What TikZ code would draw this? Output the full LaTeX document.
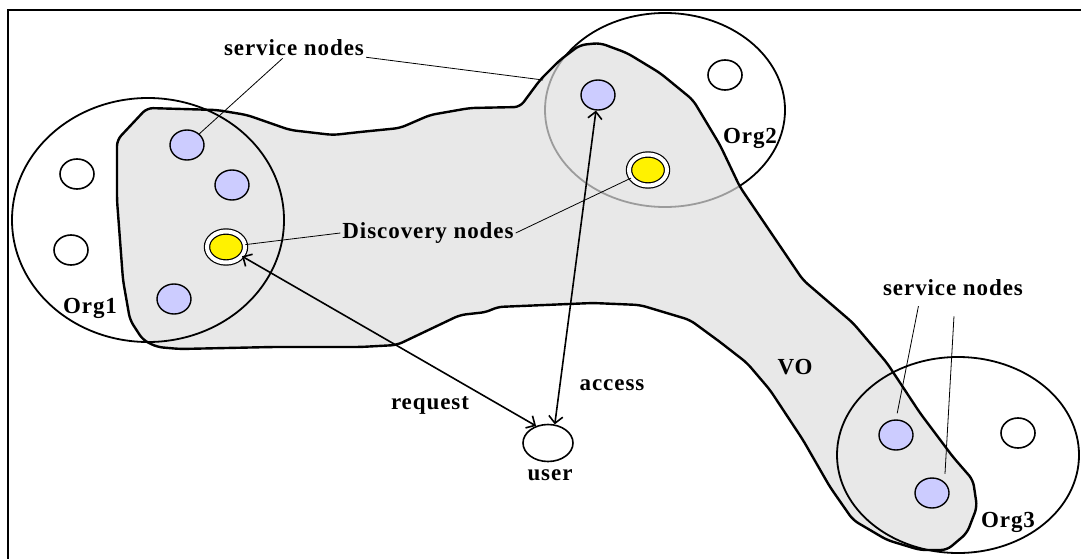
\documentclass[tikz,border=0pt]{standalone}
\usepackage{fontspec}
\setmainfont{Liberation Serif}
\usetikzlibrary{shapes.geometric,arrows.meta}
\definecolor{lavender}{HTML}{CCCCFF}

\tikzset{
  org/.style={draw=black, line width=1.8pt},
  srv/.style={ellipse, draw, line width=1.4pt, fill=lavender, minimum width=34pt, minimum height=30pt, inner sep=0pt},
  idle/.style={ellipse, draw, line width=1.6pt, fill=white, minimum width=34pt, minimum height=30pt, inner sep=0pt},
  disco/.style={ellipse, draw, line width=1.2pt, double=white, double distance=4pt, fill=yellow, minimum width=38pt, minimum height=31pt, inner sep=0pt},
  lbl/.style={font=\bfseries\fontsize{23}{26}\selectfont\addfontfeature{LetterSpace=4}, inner sep=2pt},
  callout/.style={draw, line width=0.8pt},
  arr/.style={line width=1.6pt, {Straight Barb[length=7pt,width=14pt]}-{Straight Barb[length=7pt,width=14pt]}}
}

\begin{document}
\begin{tikzpicture}[x=1pt, y=-1pt]
\useasboundingbox (0,0) rectangle (1081,559);
\draw[line width=2pt] (8,560) -- (8,10) -- (1082,10);

\draw[org] (665,110) ellipse [x radius=120pt, y radius=97pt];
\begin{scope}[fill opacity=.7]
    \draw[line width=2.4pt, fill=black!13, rounded corners=6pt]
      (117,140) -- (147,108) -- (217,110) -- (247,115) -- (290,130) -- (333,135)
      -- (360,132) -- (400,128) -- (430,115) -- (470,108) -- (520,107) -- (540,80)
      -- (560,60) -- (580,45) -- (600,43) -- (627,53) -- (660,73) -- (693,100)
      -- (720,145) -- (740,187) -- (803,280) -- (853,323) -- (887,363) -- (920,413)
      -- (953,457) -- (973,480) -- (977,507) -- (967,533) -- (947,550) -- (920,550)
      -- (887,540) -- (853,520) -- (830,487) -- (803,440) -- (770,390) -- (747,363)
      -- (720,342) -- (690,320) -- (640,305) -- (593,303) -- (497,307) -- (487,312)
      -- (460,315) -- (397,345) -- (360,347) -- (273,347) -- (180,349) -- (157,347)
      -- (143,340) -- (130,320) -- (123,280) -- (117,200) -- cycle;
\end{scope}
\draw[org] (148,220) ellipse [x radius=136pt, y radius=122pt];
\draw[org] (958,455) ellipse [x radius=121pt, y radius=98pt];

\node[idle] (w1) at (77,174) {};
\node[idle] (w2) at (71,250) {};
\node[srv] (a1) at (187,145) {};
\node[srv] (a2) at (232,185) {};
\node[srv] (a3) at (174,299) {};
\node[disco] (d1) at (226,247) {};
\node[srv] (c1) at (598,95) {};
\node[disco] (d2) at (648,170) {};
\node[idle] (w3) at (725,75) {};
\node[srv] (b1) at (896,435) {};
\node[srv] (b2) at (932,493) {};
\node[idle] (w4) at (1018,433) {};
\node[ellipse, draw, line width=1.6pt, minimum width=50pt, minimum height=37pt, inner sep=0pt] (user) at (548,443) {};

\node[lbl] (svcA) at (294,48) {service nodes};
\node[lbl] (disc) at (428,233) {Discovery nodes};
\node[lbl] (svcB) at (953,288) {service nodes};
\node[lbl] (org1) at (90,308) {Org1};
\node[lbl] (org2) at (750,138) {Org2};
\node[lbl] (org3) at (1008,522) {Org3};
\node[lbl] (vo) at (795,367) {VO};
\node[lbl] (req) at (430,405) {request};
\node[lbl] (acc) at (612,385) {access};
\node[lbl] (usr) at (550,475) {user};
\coordinate (svcAend) at (543,80);

\draw[callout] (svcA) -- (a1);
\draw[callout] (svcA) -- (svcAend);
\draw[callout] (disc.west) -- (d1);
\draw[callout] (disc.east) -- (d2);
\draw[callout, shorten <=8pt, shorten >=6pt] ([xshift=-33pt]svcB.south) -- (b1.north);
\draw[callout, shorten <=18pt, shorten >=8pt] ([xshift=2pt]svcB.south) -- (b2.north east);

%% request goes out, access comes back
\draw[arr] (d1) -- (user.125);
\draw[arr] (user.70) -- (c1);
\end{tikzpicture}
\end{document}
